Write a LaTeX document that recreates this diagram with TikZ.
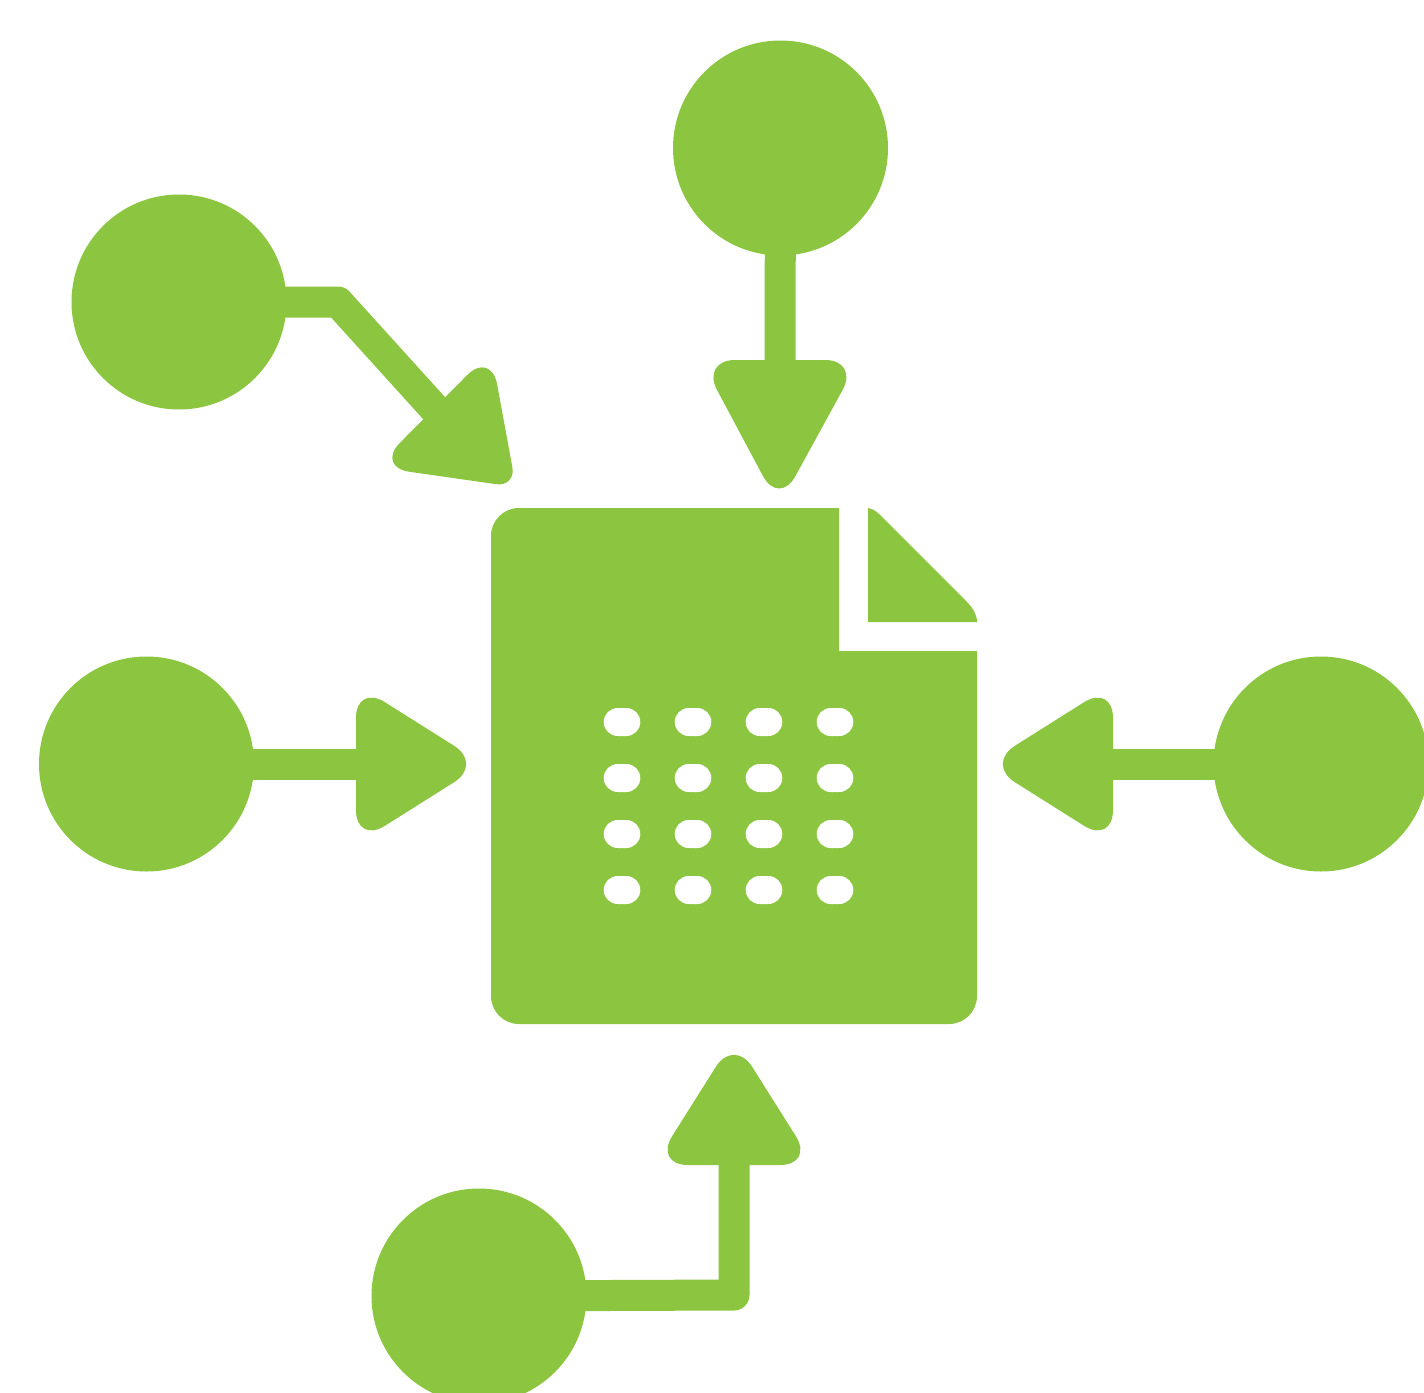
\documentclass[tikz,border=0pt]{standalone}
\definecolor{leaf}{HTML}{8CC540}
\tikzset{
  hub/.style={circle,fill=leaf,minimum size=107.5pt,inner sep=0pt},
  cell/.style={rectangle,fill=white,minimum width=18.3pt,minimum height=14pt,inner sep=0pt,rounded corners=7pt},
  edge/.style={draw=leaf,line width=15.5pt,line join=round},
  head/.style={fill=leaf,rounded corners=17pt}
}
\begin{document}
\begin{tikzpicture}[x=.5pt,y=-.5pt]
  \clip (0,0) rectangle (1424,1392);

  \node[hub] at (780.5,148) (top) {};
  \node[hub] at (179,302) (upper) {};
  \node[hub] at (146.5,764) (left) {};
  \node[hub] at (1321,764) (right) {};
  \node[hub] at (479,1296) (bottom) {};

  \coordinate (topback) at (780,365);
  \coordinate (upperbend) at (338,302);
  \coordinate (upperback) at (448,423.5);
  \coordinate (leftback) at (361,764);
  \coordinate (rightback) at (1108,764);
  \coordinate (bottombend) at (734,1295);
  \coordinate (bottomback) at (734,1160);

  % draw edges
  \draw[edge] (top.center) -- (topback);
  \draw[edge] (upper.center) -- (upperbend) -- (upperback);
  \draw[edge] (left.center) -- (leftback);
  \draw[edge] (right.center) -- (rightback);
  \draw[edge] (bottom.center) -- (bottombend) -- (bottomback);

  % draw heads
  \fill[head] (701,360) -- (859,360) -- (779,506) -- cycle;
  \fill[head] (491,351) -- (376,467) [rounded corners=10pt] -- (516,487) [rounded corners=17pt] -- cycle;
  \fill[head] (356,684) -- (483,764) -- (356,844) -- cycle;
  \fill[head] (1113,684) -- (986,764) -- (1113,844) -- cycle;
  \fill[head] (654,1165) -- (734,1038) -- (814,1165) -- cycle;

  % draw page
  \fill[leaf] (839,651) [rounded corners=0pt] -- (839,508) [rounded corners=14pt] -- (491,508) -- (491,1024) -- (977,1024) [rounded corners=0pt] -- (977,651) -- cycle;
  \fill[leaf] (868,622) -- (868,508) .. controls (875,509) and (879,514) .. (883,518) -- (967,602) .. controls (972,607) and (977,614) .. (977,622) -- cycle;

  \foreach \x in {622,693,764,835}
    \foreach \y in {722,778,834,890}
      \node[cell] at (\x,\y) (cell-\x-\y) {};
\end{tikzpicture}
\end{document}
